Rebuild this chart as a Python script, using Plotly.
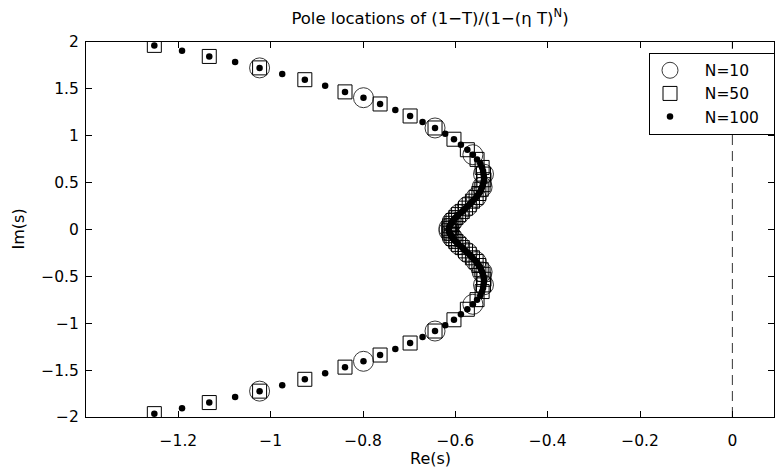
import numpy as np
import plotly.graph_objects as go

# ---- data (upper half-plane; poles come in conjugate pairs) ----
n100_re = [-1.252, -1.192, -1.133, -1.077, -1.024, -0.975, -0.926, -0.882, -0.839, -0.799,
           -0.763, -0.730, -0.698, -0.671, -0.644, -0.622, -0.603, -0.588, -0.574, -0.562,
           -0.553, -0.546, -0.542, -0.540, -0.539, -0.538, -0.538, -0.539, -0.540, -0.542,
           -0.544, -0.546, -0.549, -0.552, -0.555, -0.559, -0.563, -0.566, -0.570, -0.574,
           -0.578, -0.582, -0.585, -0.589, -0.593, -0.596, -0.599, -0.602, -0.605, -0.607,
           -0.609, -0.611, -0.612, -0.613, -0.614]
n100_im = [1.964, 1.907, 1.846, 1.787, 1.724, 1.660, 1.598, 1.534, 1.468, 1.406,
           1.339, 1.275, 1.211, 1.147, 1.083, 1.022, 0.963, 0.905, 0.851, 0.798,
           0.748, 0.703, 0.662, 0.625, 0.591, 0.560, 0.531, 0.504, 0.478, 0.453,
           0.429, 0.406, 0.384, 0.363, 0.342, 0.322, 0.302, 0.283, 0.264, 0.246,
           0.228, 0.210, 0.193, 0.176, 0.159, 0.143, 0.127, 0.111, 0.096, 0.081,
           0.066, 0.052, 0.039, 0.026, 0.013]

n50_re = [-1.252, -1.133, -1.024, -0.926, -0.839, -0.763, -0.698, -0.644, -0.603, -0.574,
          -0.553, -0.542, -0.539, -0.538, -0.540, -0.544, -0.549, -0.555, -0.563, -0.570,
          -0.578, -0.585, -0.593, -0.599, -0.605, -0.609, -0.612, -0.614]
n50_im = [1.964, 1.846, 1.724, 1.598, 1.468, 1.339, 1.211, 1.083, 0.963, 0.851,
          0.748, 0.662, 0.591, 0.531, 0.478, 0.429, 0.384, 0.342, 0.302, 0.264,
          0.228, 0.193, 0.159, 0.127, 0.096, 0.066, 0.039, 0.013]

n10_re = [-1.024, -0.799, -0.644, -0.562, -0.539, -0.542, -0.555, -0.574, -0.593, -0.607, -0.614]
n10_im = [1.724, 1.406, 1.083, 0.798, 0.591, 0.453, 0.342, 0.246, 0.159, 0.081, 0.013]

x_ticks = [-1.2, -1.0, -0.8, -0.6, -0.4, -0.2, 0.0]
x_ticktext = ["\u22121.2", "\u22121", "\u22120.8", "\u22120.6", "\u22120.4", "\u22120.2", "0"]
y_ticks = [-2, -1.5, -1, -0.5, 0, 0.5, 1, 1.5, 2]
y_ticktext = ["\u22122", "\u22121.5", "\u22121", "\u22120.5", "0", "0.5", "1", "1.5", "2"]


def conj(re, im):
    re = np.asarray(re)
    im = np.asarray(im)
    return np.concatenate([re, re[::-1]]), np.concatenate([im, -im[::-1]])


FONT = "DejaVu Sans, Liberation Sans, Arial, sans-serif"
NB = "\u00a0"

fig = go.Figure()
x10, y10 = conj(n10_re, n10_im)
x50, y50 = conj(n50_re, n50_im)
x100, y100 = conj(n100_re, n100_im)

fig.add_trace(go.Scatter(x=x10, y=y10, mode="markers", name=NB * 3 + "N=10", legendgroup="a",
                         marker=dict(symbol="circle-open", size=20, color="#222",
                                     line=dict(width=0.9, color="#222"))))
fig.add_trace(go.Scatter(x=x50, y=y50, mode="markers", name=NB * 3 + "N=50", legendgroup="b",
                         marker=dict(symbol="square-open", size=14, color="black",
                                     line=dict(width=1, color="black"))))
fig.add_trace(go.Scatter(x=x100, y=y100, mode="markers", name=NB * 3 + "N=100" + NB * 2, legendgroup="c",
                         marker=dict(symbol="circle", size=6.5, color="black", line=dict(width=0))))

fig.add_shape(type="line", x0=0, x1=0, y0=-2, y1=2, xref="x", yref="y",
              line=dict(color="#333", width=1, dash="10px,6px"), layer="below")

axis_common = dict(showline=True, linecolor="black", linewidth=1, mirror="ticks",
                   ticks="inside", ticklen=6, tickcolor="black", showgrid=False,
                   zeroline=False, tickfont=dict(family=FONT, size=15.5, color="black"))

fig.update_xaxes(range=[-1.4, 0.0902], tickvals=x_ticks, ticktext=x_ticktext,
                 ticklabelstandoff=9, **axis_common)
fig.update_yaxes(range=[-2, 2], tickvals=y_ticks, ticktext=y_ticktext,
                 ticklabelstandoff=3, **axis_common)

fig.update_layout(
    width=775, height=475,
    margin=dict(l=86, r=0, t=42, b=58),
    plot_bgcolor="white", paper_bgcolor="white",
    font=dict(family=FONT, size=15.5, color="black"),
    title=dict(text="Pole locations of (1\u2212T)/(1\u2212(\u03b7 T)<sup>N</sup>)",
               x=0.5, xref="paper", xanchor="center",
               y=1 - 18 / 475, yref="container", yanchor="middle",
               font=dict(family=FONT, size=16.5, color="black")),
    showlegend=True,
    hovermode=False,
    legend=dict(x=(650 - 86) / 689, xanchor="left", y=(417 - 52.7) / 375, yanchor="top",
                bgcolor="white", bordercolor="black", borderwidth=1,
                font=dict(family=FONT, size=15.5, color="black"),
                tracegroupgap=0, itemsizing="trace"),
    annotations=[
        dict(text="Im(s)", xref="paper", yref="paper", x=0, y=0.5, xshift=-68,
             textangle=-90, showarrow=False, xanchor="center", yanchor="middle",
             font=dict(family=FONT, size=16, color="black")),
        dict(text="Re(s)", xref="paper", yref="paper", x=0.5, y=0, yshift=-41,
             showarrow=False, xanchor="center", yanchor="middle",
             font=dict(family=FONT, size=16, color="black")),
    ],
)

fig.write_html("out.html", config={"displayModeBar": False, "staticPlot": True},
               post_script="document.body.style.margin='0';")
